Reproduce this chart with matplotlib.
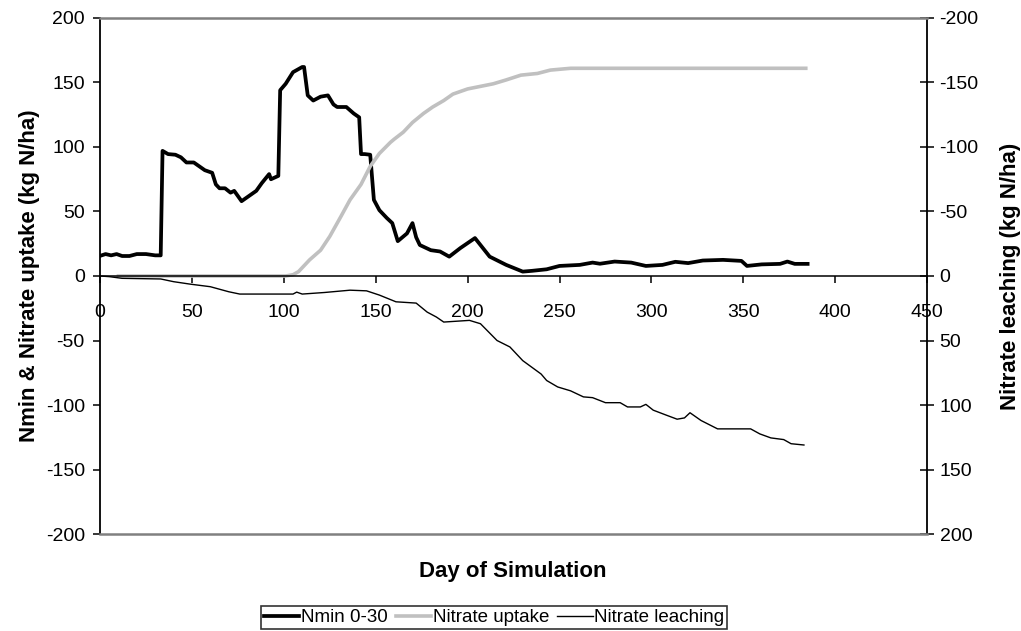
import matplotlib
matplotlib.use('Agg')
import matplotlib.pyplot as plt

plt.rcParams['font.family'] = ['Liberation Sans', 'DejaVu Sans']
plt.rcParams['axes.unicode_minus'] = False

# Nmin 0-30 (left axis)
NMIN_DAY = [0, 3, 6, 9, 12, 16, 20, 25, 30, 33, 34, 37, 41, 44, 47, 51, 54, 57, 61, 63,
            65, 68, 71, 73, 77, 81, 85, 88, 92, 93, 97, 98, 101, 105, 110, 111, 113, 116, 120, 124,
            127, 129, 134, 138, 141, 142, 144, 147, 149, 152, 156, 159, 162, 167, 170, 172, 174, 180, 185, 190,
            196, 204, 212, 221, 230, 235, 243, 250, 261, 268, 272, 280, 289, 297, 306, 313, 320, 328, 339, 349,
            352, 360, 370, 374, 378, 385]
NMIN_VAL = [15.6, 17, 16, 17, 15.5, 15.5, 17, 17, 16, 16, 97, 94.5, 94, 92, 88, 88, 85, 82, 80, 71,
            68, 68, 64.6, 66, 58, 62, 66, 72, 79, 75, 77.6, 144, 149, 158, 162, 162, 140, 136, 139, 140,
            133, 131, 131, 126, 123, 94.5, 94.5, 94, 59, 51, 45, 41, 27, 33, 41, 30, 24, 20, 19, 15,
            21.6, 29.4, 15, 8.6, 3.4, 4, 5.2, 7.8, 8.6, 10.4, 9.5, 11.2, 10.4, 7.8, 8.6, 11, 10, 12, 12.5, 11.7,
            7.8, 9, 9.4, 11.2, 9.4, 9.4]

# Nitrate uptake (left axis)
UP_DAY = [10, 101, 105, 108, 114, 120, 125, 131, 136, 142, 147, 152, 158, 160, 165, 170, 176, 181, 187, 192,
          200, 207, 214, 221, 229, 238, 245, 256, 384]
UP_VAL = [0, 0, 1, 3.4, 12.5, 20, 30.7, 46, 59, 71, 85, 95, 103.6, 106, 111.5, 119, 126, 131, 136, 141,
          145, 147, 149, 152, 155.7, 157, 159.6, 161, 161]

# Nitrate leaching (right axis, inverted)
LEACH_DAY = [0, 5, 12, 20, 33, 40, 49, 60, 70, 76, 105, 107, 110, 122, 136, 145, 152, 161, 172, 178,
             183, 187, 201, 207, 216, 223, 230, 240, 243, 249, 256, 263, 268, 275, 283, 287, 294, 297, 301, 308,
             314, 318, 321, 327, 336, 354, 359, 365, 372, 376, 383]
LEACH_VAL = [0, 0.5, 1.8, 2, 2.3, 4.4, 6.3, 8.3, 12.2, 14, 14, 12.5, 14, 12.8, 11, 11.5, 14.8, 20, 21, 28,
             31.8, 35.7, 34.4, 37, 50, 55, 65.6, 76, 81, 86, 89, 93.7, 94.3, 98.2, 98.2, 101.5, 101.5, 99.5, 104, 107.8,
             111, 110, 106, 112, 118.5, 118.5, 122.4, 125.5, 126.8, 130, 131]

X_TICKS = list(range(0, 451, 50))
Y_TICKS = list(range(-200, 201, 50))

fig = plt.figure(figsize=(10.21, 6.31), dpi=100)
ax = fig.add_axes([0.098, 0.1537, 0.81, 0.8178])
ax2 = ax.twinx()

l1, = ax.plot(NMIN_DAY, NMIN_VAL, color='black', lw=2.7, label='Nmin 0-30')
l2, = ax.plot(UP_DAY, UP_VAL, color='#c0c0c0', lw=2.6, label='Nitrate uptake')
l3, = ax2.plot(LEACH_DAY, LEACH_VAL, color='black', lw=1.0, label='Nitrate leaching')

ax.set_xlim(0, 450)
ax.set_ylim(-200, 200)
ax2.set_ylim(200, -200)
ax.set_xticks(X_TICKS)
ax.set_yticks(Y_TICKS)
ax2.set_yticks(Y_TICKS)

# x axis runs along zero, grey plot-area border top and bottom
ax.spines['bottom'].set_position(('data', 0))
ax.spines['top'].set_visible(False)
ax.spines['right'].set_visible(False)
ax.spines['left'].set_linewidth(1.3)
ax.spines['bottom'].set_linewidth(1.1)
ax2.spines['left'].set_visible(False)
ax2.spines['right'].set_linewidth(1.3)
ax2.spines['top'].set_color('#808080')
ax2.spines['bottom'].set_color('#808080')
ax2.spines['top'].set_linewidth(1.8)
ax2.spines['bottom'].set_linewidth(1.8)

ax.tick_params(axis='x', direction='out', length=5, width=1.1, labelsize=14, pad=15)
ax.tick_params(axis='y', direction='out', length=5, width=1.1, labelsize=14, pad=6)
ax2.tick_params(axis='y', direction='inout', length=10, width=1.1, labelsize=14, pad=4)

ax.set_ylabel('Nmin & Nitrate uptake (kg N/ha)', fontsize=16, fontweight='bold', labelpad=4)
ax2.set_ylabel('Nitrate leaching (kg N/ha)', fontsize=16, fontweight='bold', labelpad=15)
fig.text(0.502, 0.094, 'Day of Simulation', fontsize=16, fontweight='bold', ha='center', va='center')

leg = fig.legend(handles=[l1, l2, l3], loc='lower center', bbox_to_anchor=(0.484, 0.0), ncol=3,
                 fontsize=13.5, frameon=True, fancybox=False, edgecolor='black',
                 handlelength=1.9, handletextpad=0.1, columnspacing=0.4, borderpad=0.15,
                 borderaxespad=0.1)
leg.get_frame().set_linewidth(1.2)

fig.savefig('out.png', dpi=100)
